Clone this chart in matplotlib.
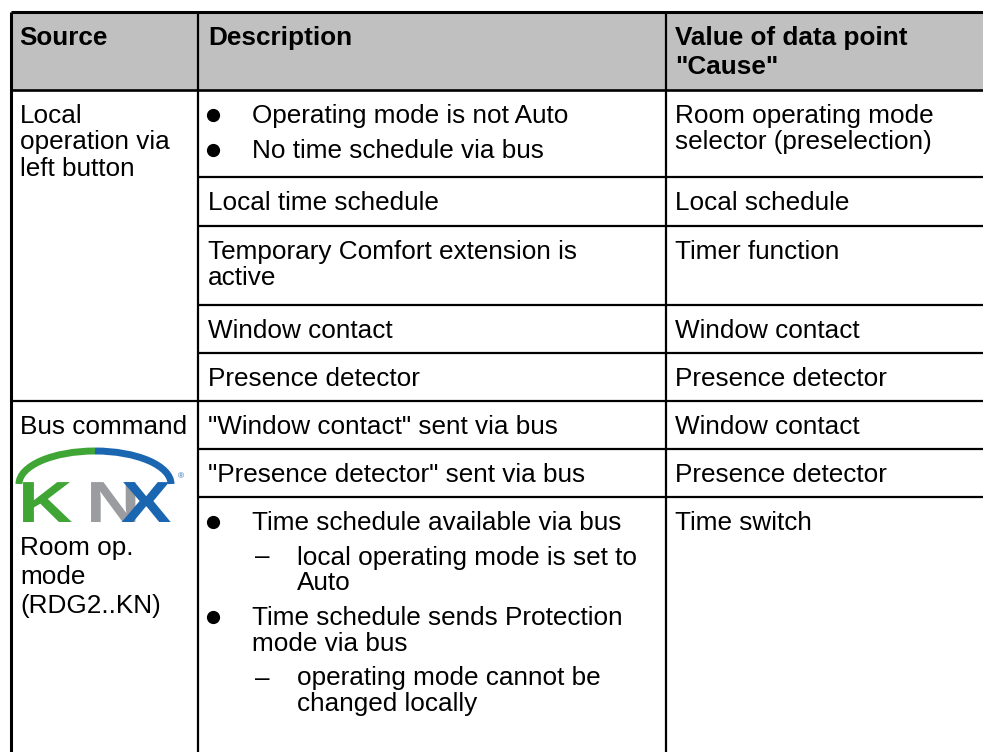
import matplotlib.pyplot as plt
from matplotlib.patches import Rectangle, Arc, PathPatch
from matplotlib.textpath import TextPath
from matplotlib.font_manager import FontProperties
from matplotlib.transforms import Affine2D

plt.rcParams['font.family'] = ['Liberation Sans', 'DejaVu Sans']

# dados da tabela
cabecalho = [['Source'], ['Description'], ['Value of data point', '"Cause"']]

origem_local = ['Local', 'operation via', 'left button']
origem_bus = ['Bus command']
origem_knx = ['Room op.', 'mode', '(RDG2..KN)']

descricoes = [
    [('bullet', ['Operating mode is not Auto']),
     ('bullet', ['No time schedule via bus'])],
    [('text', ['Local time schedule'])],
    [('text', ['Temporary Comfort extension is', 'active'])],
    [('text', ['Window contact'])],
    [('text', ['Presence detector'])],
    [('text', ['"Window contact" sent via bus'])],
    [('text', ['"Presence detector" sent via bus'])],
    [('bullet', ['Time schedule available via bus']),
     ('dash', ['local operating mode is set to', 'Auto']),
     ('bullet', ['Time schedule sends Protection', 'mode via bus']),
     ('dash', ['operating mode cannot be', 'changed locally'])],
]

causas = [['Room operating mode', 'selector (preselection)'], ['Local schedule'],
          ['Timer function'], ['Window contact'], ['Presence detector'],
          ['Window contact'], ['Presence detector'], ['Time switch']]

# layout (pixels)
W, H = 983, 752
colunas = [11, 198, 666, W]
topo = 12
linhas = [90, 177, 226, 305, 353, 401, 449, 497, H]
fs = 18.8          # ~26 px
passo = 26         # line step
passo_par = 34.5   # paragraph step
cinza_cab = '#c0c0c0'

fig = plt.figure(figsize=(W / 100, H / 100), dpi=100)
ax = fig.add_axes([0, 0, 1, 1])
ax.set_xlim(0, W)
ax.set_ylim(H, 0)
ax.axis('off')


def escrever(x, y, partes, step=passo, **kw):
    for j, p in enumerate(partes):
        ax.text(x, y + j * step, p, fontsize=fs, va='baseline', ha='left', **kw)


# cabecalho
ax.add_patch(Rectangle((colunas[0], topo), W - colunas[0], linhas[0] - topo,
                       facecolor=cinza_cab, edgecolor='none'))
pads = [8, 10, 9]
for i, partes in enumerate(cabecalho):
    escrever(colunas[i] + pads[i], topo + 33, partes, step=29, fontweight='bold')

# linhas da grade
ax.plot([colunas[0], W], [topo, topo], color='black', lw=2.2, solid_capstyle='butt')
ax.plot([colunas[0], colunas[0]], [topo, H], color='black', lw=2.2, solid_capstyle='butt')
ax.plot([colunas[0], W], [linhas[0], linhas[0]], color='black', lw=1.9)
for xc in colunas[1:3]:
    ax.plot([xc, xc], [topo, H], color='black', lw=1.6, solid_capstyle='butt')
for k, y in enumerate(linhas[1:-1], start=1):
    x0 = colunas[0] if k == 5 else colunas[1]
    ax.plot([x0, W], [y, y], color='black', lw=1.6, solid_capstyle='butt')

# descricoes e causas
for r, itens in enumerate(descricoes):
    y = linhas[r] + 33
    for kind, partes in itens:
        if kind == 'bullet':
            ax.plot([213], [y - 8], 'o', color='black', markersize=8.5)
            x = 252
        elif kind == 'dash':
            ax.text(255, y, '\u2013', fontsize=fs, ha='left', va='baseline')
            x = 297
        else:
            x = colunas[1] + 10
        escrever(x, y, partes)
        y += (len(partes) - 1) * passo + passo_par
    escrever(colunas[2] + 9, linhas[r] + 33, causas[r], step=26)

# origens
escrever(colunas[0] + 9, linhas[0] + 33, origem_local, step=26.5)
escrever(colunas[0] + 9, linhas[5] + 33, origem_bus)
escrever(colunas[0] + 9, 555, origem_knx, step=29)

# logo KNX
verde, cinza, azul = '#3fa535', '#9a9c9f', '#1b66b1'
ax.add_patch(Arc((95, 484), 152, 66, theta1=180, theta2=270, color=verde, lw=5))
ax.add_patch(Arc((95, 484), 152, 66, theta1=270, theta2=360, color=azul, lw=5))
fp = FontProperties(family='Liberation Sans', weight='bold')
for letra, x0, cor in [('K', 18, verde), ('N', 86, cinza), ('X', 121, azul)]:
    tp = TextPath((0, 0), letra, size=58, prop=fp)
    tr = Affine2D().scale(1.3, -1.0).translate(x0, 522)
    ax.add_patch(PathPatch(tr.transform_path(tp), facecolor=cor, edgecolor='none'))
ax.text(181, 477, '\u00ae', fontsize=6, color=azul, ha='center', va='center')

fig.savefig('out.png', dpi=100)
